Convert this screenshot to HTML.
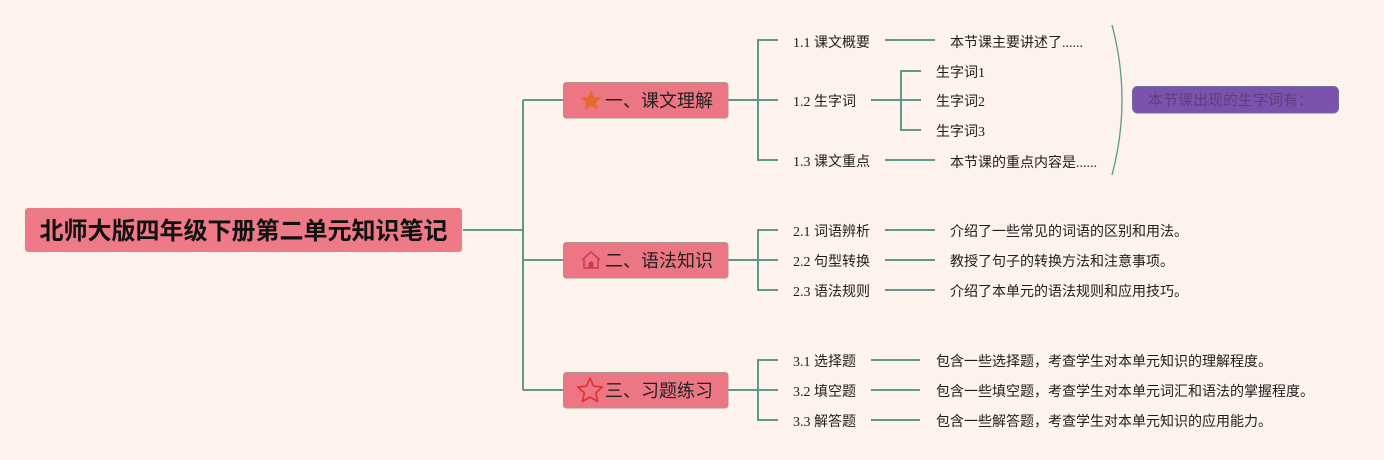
<!DOCTYPE html>
<html>
<head>
<meta charset="utf-8">
<style>
  html,body{margin:0;padding:0;background:#fdf2ec;}
  body{width:1384px;height:460px;overflow:hidden;}
  svg{display:block;}
  .t{font-family:"Liberation Serif","Noto Sans CJK SC",serif;font-size:14px;fill:#1e1e1e;}
  .b{font-family:"Liberation Sans","Noto Sans CJK SC",sans-serif;font-size:18px;fill:#222;}
</style>
</head>
<body>
<svg width="1384" height="460" viewBox="0 0 1384 460" xmlns="http://www.w3.org/2000/svg">
  <rect x="0" y="0" width="1384" height="460" fill="#fdf2ec"/>
  <g fill="none" stroke="#5d998a" stroke-width="2">
    <path d="M463 230 H523 M523 100 V390 M523 100 H563 M523 260 H563 M523 390 H563"/>
    <path d="M728 100 H758 M758 40 V160 M757 40 H778 M758 100 H778 M757 160 H778"/>
    <path d="M728 260 H758 M758 230 V290 M757 230 H778 M758 260 H778 M757 290 H778"/>
    <path d="M728 390 H758 M758 360 V420 M757 360 H778 M758 390 H778 M757 420 H778"/>
    <path d="M885 40 H935 M885 160 H935"/>
    <path d="M871 100 H901 M901 71 V130 M900 71 H921 M901 100 H921 M900 130 H921"/>
    <path d="M885 230 H935 M885 260 H935 M885 290 H935"/>
    <path d="M871 360 H920 M871 390 H920 M871 420 H920"/>
  </g>
  <path d="M1112 25 Q1132 100 1112 175" fill="none" stroke="#5d998a" stroke-width="1.3"/>

  <rect x="25" y="208" width="437" height="44" rx="3" fill="#ee7a88"/>
  <text x="243.5" y="239" text-anchor="middle" font-family="Liberation Sans, Noto Sans CJK SC, sans-serif" font-size="24" font-weight="bold" fill="#111">北师大版四年级下册第二单元知识笔记</text>

  <rect x="563.5" y="82.5" width="164.5" height="35.5" rx="3" fill="#ec7684" stroke="#a8958f" stroke-width="1"/>
  <rect x="563.5" y="242.5" width="164.5" height="35.5" rx="3" fill="#ec7684" stroke="#a8958f" stroke-width="1"/>
  <rect x="563.5" y="372.5" width="164.5" height="35.5" rx="3" fill="#ec7684" stroke="#a8958f" stroke-width="1"/>

  <polygon points="591,91 593.6,97.4 600.5,97.9 595.3,102.4 596.9,109.1 591,105.5 585.1,109.1 586.7,102.4 581.5,97.9 588.4,97.4" fill="#e8692c" stroke="#e8692c" stroke-width="1" stroke-linejoin="round"/>
  <g fill="none" stroke="#d6364f" stroke-width="1.5" stroke-linejoin="round">
    <path d="M582 260 L591 252 L600 260"/>
    <path d="M584 258 V268 H598 V258"/>
  </g>
  <path d="M588.5 268 V264 a2.5 2.5 0 0 1 5 0 V268 Z" fill="#d6364f"/>
  <polygon points="590,378 593.5,386.1 602.4,387 595.7,392.9 597.6,401.5 590,397 582.4,401.5 584.3,392.9 577.6,387 586.5,386.1" fill="none" stroke="#e2302f" stroke-width="1.6" stroke-linejoin="round"/>

  <text class="b" x="605" y="107">一、课文理解</text>
  <text class="b" x="605" y="267">二、语法知识</text>
  <text class="b" x="605" y="397">三、习题练习</text>

  <text class="t" x="793" y="47">1.1 课文概要</text>
  <text class="t" x="793" y="106">1.2 生字词</text>
  <text class="t" x="793" y="166">1.3 课文重点</text>
  <text class="t" x="793" y="236">2.1 词语辨析</text>
  <text class="t" x="793" y="266">2.2 句型转换</text>
  <text class="t" x="793" y="296">2.3 语法规则</text>
  <text class="t" x="793" y="366">3.1 选择题</text>
  <text class="t" x="793" y="396">3.2 填空题</text>
  <text class="t" x="793" y="426">3.3 解答题</text>

  <text class="t" x="950" y="47">本节课主要讲述了......</text>
  <text class="t" x="936" y="77">生字词1</text>
  <text class="t" x="936" y="106">生字词2</text>
  <text class="t" x="936" y="136">生字词3</text>
  <text class="t" x="950" y="167">本节课的重点内容是......</text>
  <text class="t" x="950" y="236">介绍了一些常见的词语的区别和用法。</text>
  <text class="t" x="950" y="266">教授了句子的转换方法和注意事项。</text>
  <text class="t" x="950" y="296">介绍了本单元的语法规则和应用技巧。</text>
  <text class="t" x="936" y="366">包含一些选择题，考查学生对本单元知识的理解程度。</text>
  <text class="t" x="936" y="396">包含一些填空题，考查学生对本单元词汇和语法的掌握程度。</text>
  <text class="t" x="936" y="426">包含一些解答题，考查学生对本单元知识的应用能力。</text>

  <rect x="1132.5" y="86.5" width="206" height="26.5" rx="5" fill="#7b53ae" stroke="#6c6f98" stroke-width="1"/>
  <text x="1148" y="105" font-family="Liberation Sans, Noto Sans CJK SC, sans-serif" font-size="15" fill="#5b3f80">本节课出现的生字词有：</text>
</svg>
</body>
</html>
